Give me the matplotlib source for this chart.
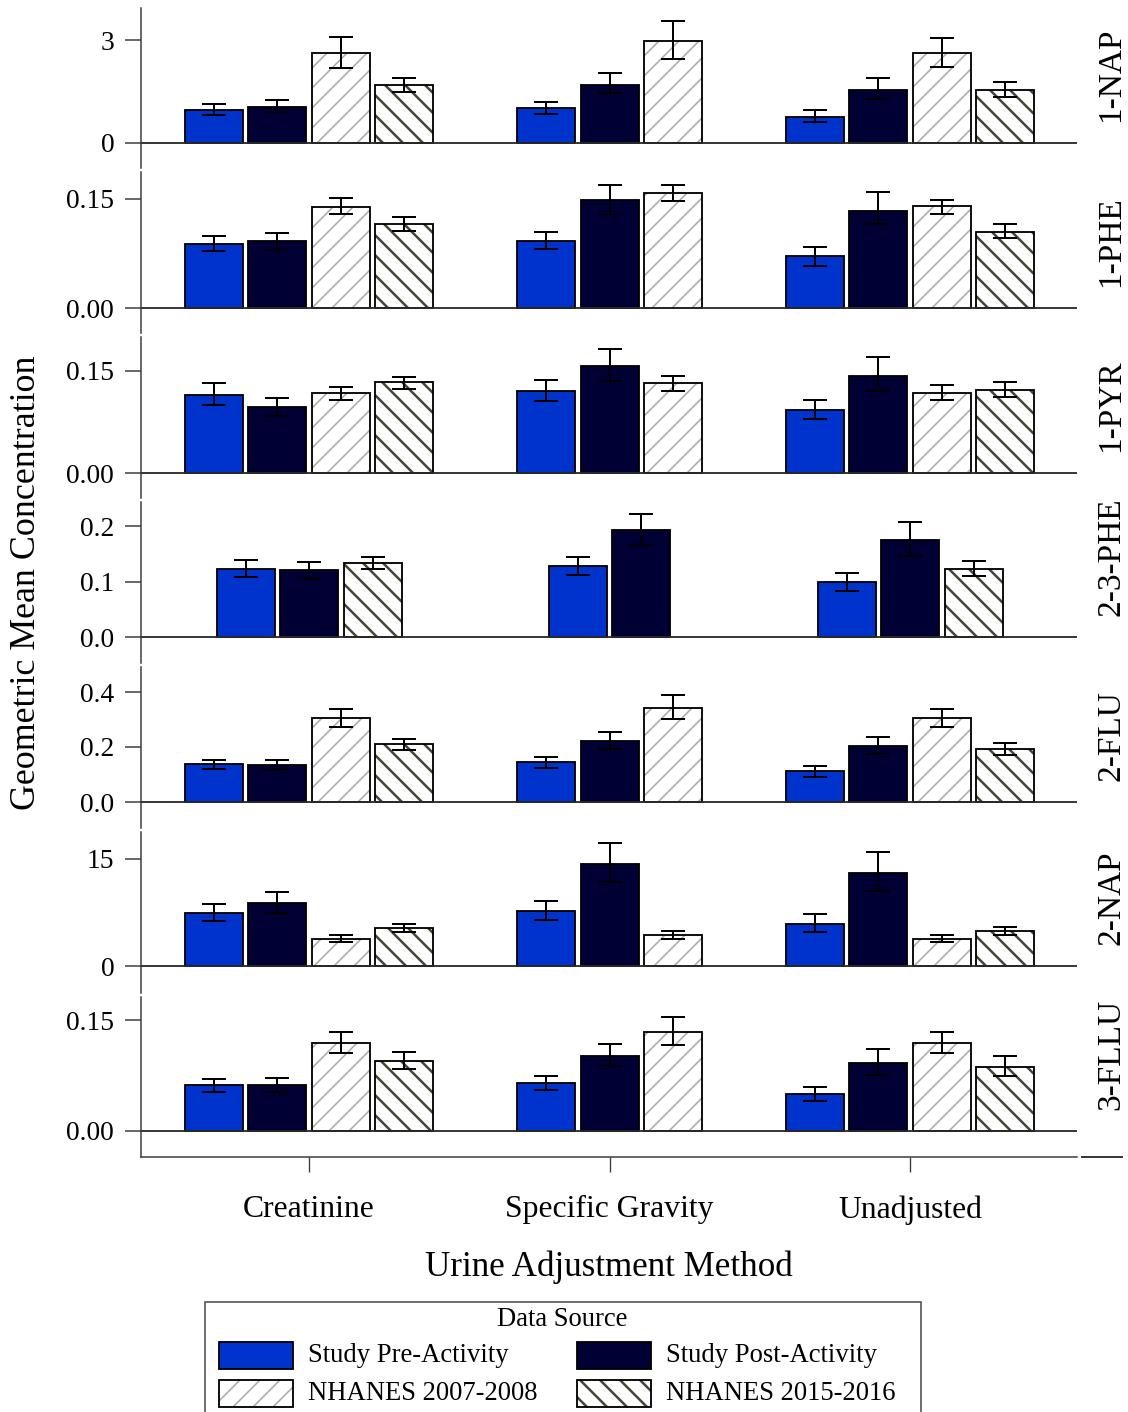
import numpy as np
import matplotlib
matplotlib.use('Agg')
import matplotlib.pyplot as plt
from matplotlib.patches import Rectangle
from matplotlib.lines import Line2D
from matplotlib.colors import to_rgba

# ---------------- data ----------------
analytes = ['1-NAP', '1-PHE', '1-PYR', '2-3-PHE', '2-FLU', '2-NAP', '3-FLLU']
methods = ['Creatinine', 'Specific Gravity', 'Unadjusted']
series = ['Study Pre-Activity', 'Study Post-Activity', 'NHANES 2007-2008', 'NHANES 2015-2016']
nan = np.nan

# rows = analytes, cols = methods
pre_gm = [[0.96, 1.01, 0.77], [0.088, 0.092, 0.071], [0.115, 0.121, 0.093], [0.123, 0.128, 0.099],
          [0.138, 0.145, 0.113], [7.43, 7.71, 5.89], [0.062, 0.065, 0.050]]
pre_lo = [[0.82, 0.84, 0.61], [0.079, 0.081, 0.058], [0.100, 0.106, 0.080], [0.109, 0.112, 0.083],
          [0.120, 0.124, 0.091], [6.31, 6.45, 4.77], [0.053, 0.055, 0.041]]
pre_hi = [[1.15, 1.19, 0.96], [0.099, 0.105, 0.084], [0.133, 0.137, 0.107], [0.138, 0.144, 0.115],
          [0.153, 0.164, 0.131], [8.69, 9.11, 7.29], [0.070, 0.074, 0.060]]

post_gm = [[1.05, 1.70, 1.55], [0.092, 0.149, 0.134], [0.097, 0.157, 0.143], [0.120, 0.193, 0.175],
           [0.135, 0.222, 0.204], [8.83, 14.3, 13.04], [0.062, 0.101, 0.092]]
post_lo = [[0.89, 1.45, 1.27], [0.080, 0.130, 0.115], [0.084, 0.136, 0.121], [0.105, 0.166, 0.146],
           [0.116, 0.193, 0.175], [7.43, 11.78, 10.51], [0.053, 0.088, 0.076]]
post_hi = [[1.25, 2.05, 1.89], [0.103, 0.169, 0.159], [0.111, 0.183, 0.170], [0.135, 0.222, 0.207],
           [0.153, 0.255, 0.236], [10.37, 17.24, 15.98], [0.072, 0.118, 0.111]]

n08_gm = [[2.61, 2.97, 2.61], [0.139, 0.158, 0.140], [0.118, 0.133, 0.118], [nan, nan, nan],
          [0.305, 0.342, 0.305], [3.79, 4.35, 3.79], [0.119, 0.134, 0.119]]
n08_lo = [[2.19, 2.46, 2.21], [0.129, 0.147, 0.130], [0.108, 0.121, 0.108], [nan, nan, nan],
          [0.273, 0.302, 0.273], [3.36, 3.79, 3.36], [0.105, 0.116, 0.105]]
n08_hi = [[3.09, 3.56, 3.07], [0.151, 0.169, 0.149], [0.127, 0.143, 0.129], [nan, nan, nan],
          [0.338, 0.389, 0.338], [4.35, 4.91, 4.35], [0.134, 0.154, 0.134]]

n16_gm = [[1.69, nan, 1.54], [0.115, nan, 0.105], [0.134, nan, 0.122], [0.133, nan, 0.1225],
          [0.211, nan, 0.193], [5.33, nan, 4.91], [0.0946, nan, 0.0865]]
n16_lo = [[1.48, nan, 1.35], [0.106, nan, 0.096], [0.124, nan, 0.112], [0.1225, nan, 0.110],
          [0.189, nan, 0.171], [4.77, nan, 4.35], [0.084, nan, 0.0743]]
n16_hi = [[1.90, nan, 1.79], [0.125, nan, 0.116], [0.141, nan, 0.134], [0.145, nan, 0.137],
          [0.229, nan, 0.215], [5.89, nan, 5.47], [0.107, nan, 0.101]]

ytick_vals = [[0, 3], [0, 0.15], [0, 0.15], [0, 0.1, 0.2], [0, 0.2, 0.4], [0, 15], [0, 0.15]]
ytick_labels = [['0', '3'], ['0.00', '0.15'], ['0.00', '0.15'], ['0.0', '0.1', '0.2'],
                ['0.0', '0.2', '0.4'], ['0', '15'], ['0.00', '0.15']]

# ---------------- style / layout ----------------
W, H, DPI = 1128, 1412, 120
plt.rcParams['font.family'] = ['Liberation Serif', 'DejaVu Serif']
plt.rcParams['hatch.linewidth'] = 1.0

fig = plt.figure(figsize=(W / DPI, H / DPI), dpi=DPI)

def fx(x):
    return x / W

def fy(y):
    return 1 - y / H

panel_px = [(8, 168), (172, 333), (337, 498), (502, 663), (667, 828), (832, 993), (997, 1157)]
zero_px = [143, 308, 473, 637, 802, 966, 1131]
reftick_px = [40, 199, 371, 526, 692, 859, 1020]
x_left, x_right = 141, 1077
grp_px = [309, 610, 910]
ppx = (grp_px[2] - grp_px[0]) / 2.0
bar_w = 58 / ppx
slot = 63.5 / ppx

face = ['#0033cc', '#000035', 'white', 'white']
hatches = [None, None, '//', '\\\\']
hcol = [None, None, '#a8a8a0', '#45453a']
hlw = [None, None, 0.9, 1.5]
spine_col = '#3a3a3a'

all_gm = [pre_gm, post_gm, n08_gm, n16_gm]
all_lo = [pre_lo, post_lo, n08_lo, n16_lo]
all_hi = [pre_hi, post_hi, n08_hi, n16_hi]

def style_hatch(p, k):
    if hatches[k] is None:
        return
    if hasattr(p, 'set_hatchcolor'):
        p.set_hatchcolor(hcol[k])
    else:
        p._hatch_color = to_rgba(hcol[k])
    if hasattr(p, 'set_hatch_linewidth'):
        p.set_hatch_linewidth(hlw[k])

axes = []
for i, name in enumerate(analytes):
    top, bot = panel_px[i]
    ax = fig.add_axes([fx(x_left), fy(bot), fx(x_right) - fx(x_left), (bot - top) / H])
    axes.append(ax)
    tv = ytick_vals[i][-1]
    ppu = (zero_px[i] - reftick_px[i]) / tv
    ax.set_ylim(-(bot - zero_px[i]) / ppu, (zero_px[i] - top) / ppu)
    ax.set_xlim((x_left - grp_px[0]) / ppx, (x_right - grp_px[0]) / ppx)
    for s in ['top', 'right']:
        ax.spines[s].set_visible(False)
    ax.spines['left'].set_color(spine_col)
    ax.spines['left'].set_linewidth(0.9)
    ax.set_yticks(ytick_vals[i])
    ax.set_yticklabels(ytick_labels[i])
    ax.tick_params(axis='y', direction='out', length=9.6, width=0.9, color=spine_col,
                   pad=6.5, labelsize=16.5)
    ax.axhline(0, color='#2a2a2a', lw=1.1, zorder=4)

    for j in range(len(methods)):
        avail = [k for k in range(4) if not np.isnan(all_gm[k][i][j])]
        n = len(avail)
        for pos, k in enumerate(avail):
            x = j + (pos - (n - 1) / 2.0) * slot
            g = all_gm[k][i][j]
            lo = all_lo[k][i][j]
            hi = all_hi[k][i][j]
            bars = ax.bar([x], [g], width=bar_w, color=face[k], edgecolor='black',
                          linewidth=1.1, hatch=hatches[k], zorder=2)
            for p in bars:
                style_hatch(p, k)
            ax.errorbar([x], [g], yerr=[[g - lo], [hi - g]], fmt='none', ecolor='black',
                        elinewidth=1.2, capsize=7, capthick=1.2, zorder=5)

    if i < len(analytes) - 1:
        ax.spines['bottom'].set_visible(False)
        ax.set_xticks([])
    else:
        ax.spines['bottom'].set_color(spine_col)
        ax.spines['bottom'].set_linewidth(0.9)
        ax.set_xticks(range(len(methods)))
        ax.set_xticklabels(methods)
        ax.tick_params(axis='x', direction='out', length=9, width=0.8, color=spine_col,
                       pad=14, labelsize=19)

    fig.text(fx(1111), fy(zero_px[i] - 21), name, rotation=90, ha='center', va='bottom',
             fontsize=20)

# extra little segment of frame at bottom-right
fig.add_artist(Line2D([fx(1082), fx(1122)], [fy(1157), fy(1157)], color=spine_col, lw=1.2))

# axis titles
fig.text(fx(27), fy(583), 'Geometric Mean Concentration', rotation=90, ha='center',
         va='center', fontsize=21.5)
fig.text(fx(609), fy(1267), 'Urine Adjustment Method', ha='center', va='center', fontsize=21)

# ---------------- legend (drawn manually) ----------------
fig.add_artist(Rectangle((fx(205), fy(1420)), fx(921) - fx(205), (1420 - 1302) / H,
                         transform=fig.transFigure, facecolor='white', edgecolor='#555555',
                         lw=1.0))
fig.text(fx(562), fy(1320), 'Data Source', ha='center', va='center', fontsize=16)
leg_pos = [(219, 1342), (577, 1342), (219, 1380), (577, 1380)]
for k, lab in enumerate(series):
    lx, ly = leg_pos[k]
    r = Rectangle((fx(lx), fy(ly + 27)), fx(lx + 74) - fx(lx), 27 / H,
                  transform=fig.transFigure, facecolor=face[k], edgecolor='black',
                  lw=1.1, hatch=hatches[k])
    style_hatch(r, k)
    fig.add_artist(r)
    fig.text(fx(lx + 89), fy(ly + 13.5), lab, ha='left', va='center', fontsize=16)

fig.savefig('out.png', dpi=DPI)
